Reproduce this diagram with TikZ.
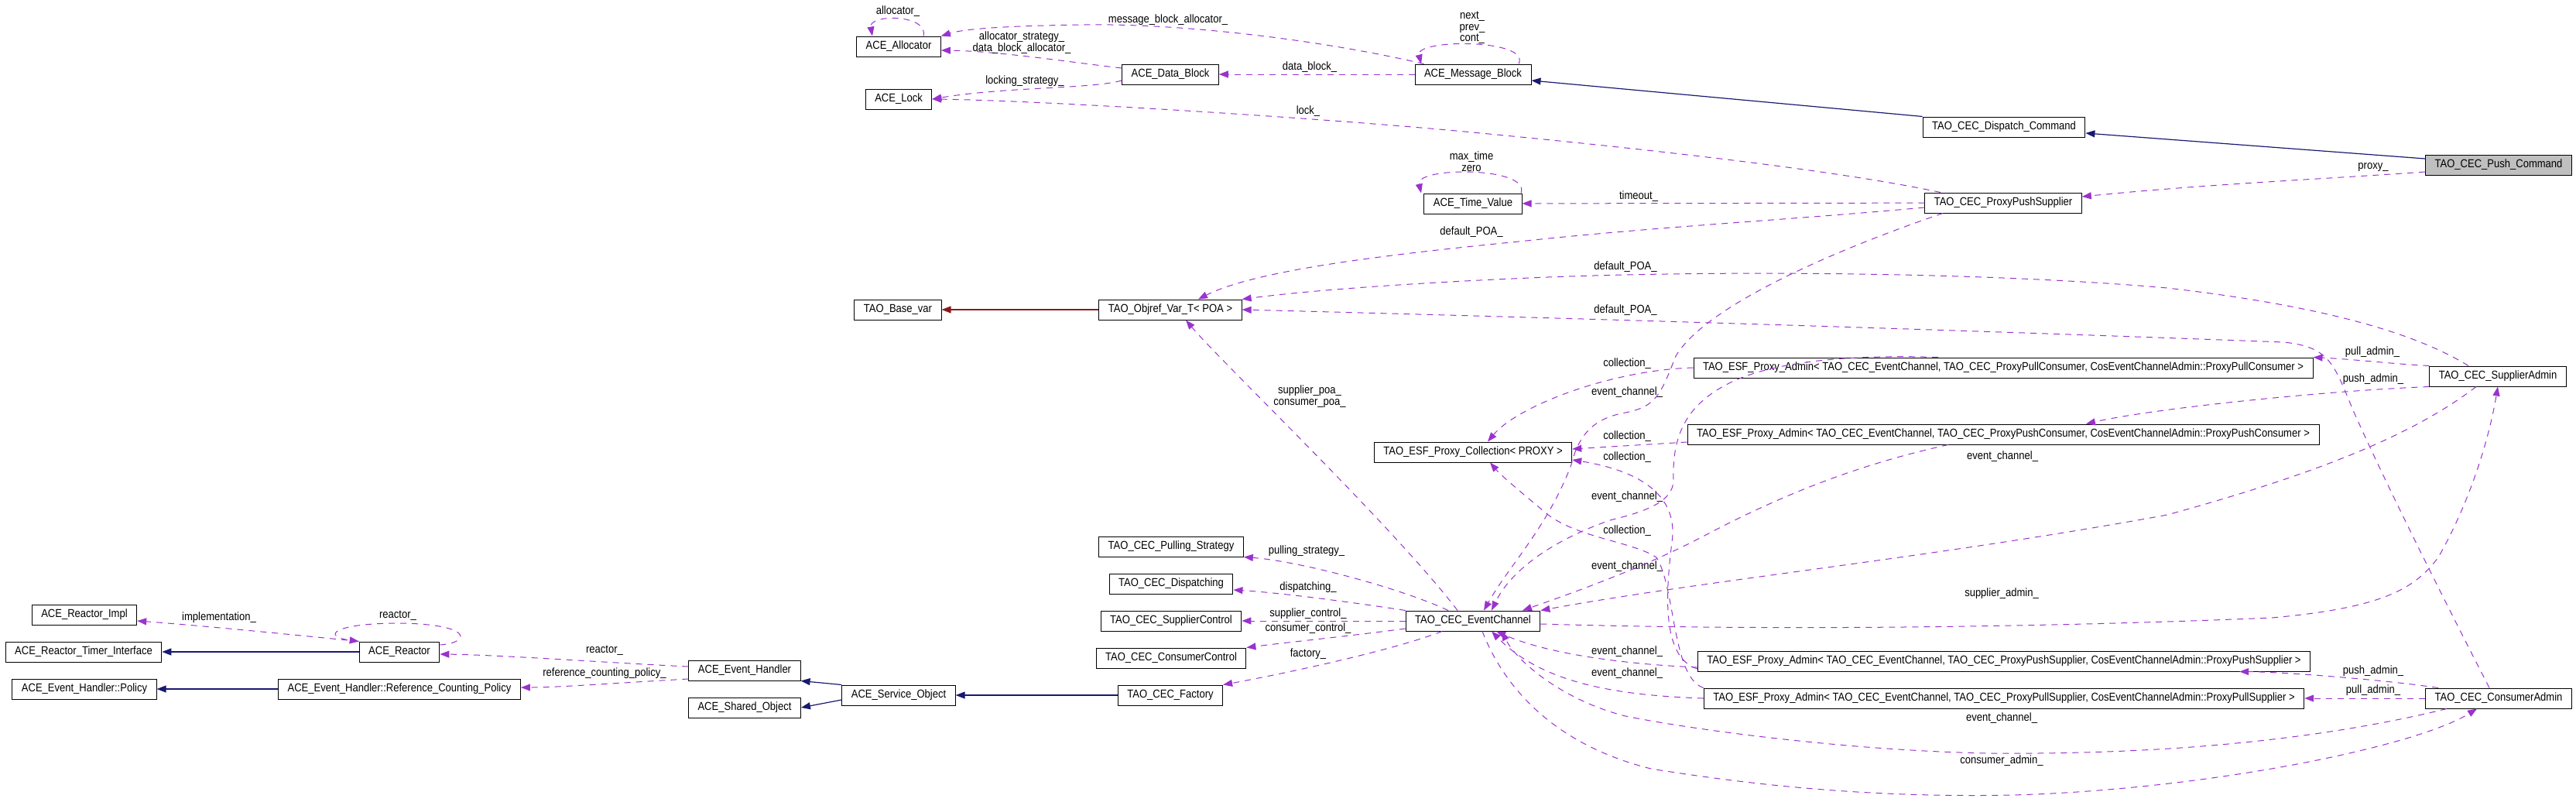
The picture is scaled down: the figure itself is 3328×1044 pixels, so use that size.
\documentclass[tikz,border=0pt]{standalone}
\usepackage{fontspec}
\newfontfamily\dotfont[FakeStretch=0.88]{Liberation Sans}
\usepackage{tikz}
\usetikzlibrary{arrows.meta}
\definecolor{usage}{HTML}{9A32CD}
\definecolor{pubinherit}{HTML}{191970}
\definecolor{privinherit}{HTML}{8B1A1A}

\begin{document}
\begin{tikzpicture}[x=0.5pt,y=-0.5pt,>={Triangle[length=6pt,width=4.5pt]}]
	\tikzstyle{cls} = [draw=black,line width=0.5pt,font=\dotfont\fontsize{7.4}{7.4}\selectfont,inner xsep=6pt,inner ysep=0pt,minimum height=13pt]
	\tikzstyle{focus} = [cls,fill=black!25]
	\tikzstyle{lbl} = [font=\dotfont\fontsize{7.4}{7.3}\selectfont,inner sep=0pt,align=center]
	\tikzstyle{uses} = [->,draw=usage,line width=0.5pt,dash pattern=on 4pt off 3.5pt]
	\tikzstyle{pubinh} = [->,draw=pubinherit,line width=0.6pt]
	\tikzstyle{privinh} = [->,draw=privinherit,line width=0.6pt]
	\useasboundingbox (0,0) rectangle (3328,1044);

	\node[cls]	(alloc)		at (1161,60)	{ACE\_Allocator};
	\node[cls]	(datab)		at (1512,96)	{ACE\_Data\_Block};
	\node[cls]	(msgb)		at (1903,96)	{ACE\_Message\_Block};
	\node[cls]	(lock)		at (1161,128)	{ACE\_Lock};
	\node[cls]	(dispcmd)	at (2589,164)	{TAO\_CEC\_Dispatch\_Command};
	\node[focus]	(pushcmd)	at (3228,213)	{TAO\_CEC\_Push\_Command};
	\node[cls]	(timeval)	at (1903,263)	{ACE\_Time\_Value};
	\node[cls]	(pps)		at (2588,262)	{TAO\_CEC\_ProxyPushSupplier};
	\node[cls]	(basevar)	at (1160,400)	{TAO\_Base\_var};
	\node[cls]	(objref)	at (1512,400)	{TAO\_Objref\_Var\_T< POA >};
	\node[cls]	(admpullcons)	at (2588,475)	{TAO\_ESF\_Proxy\_Admin< TAO\_CEC\_EventChannel, TAO\_CEC\_ProxyPullConsumer, CosEventChannelAdmin::ProxyPullConsumer >};
	\node[cls]	(suppadmin)	at (3227,486)	{TAO\_CEC\_SupplierAdmin};
	\node[cls]	(admpushcons)	at (2588,561)	{TAO\_ESF\_Proxy\_Admin< TAO\_CEC\_EventChannel, TAO\_CEC\_ProxyPushConsumer, CosEventChannelAdmin::ProxyPushConsumer >};
	\node[cls]	(coll)		at (1903,584)	{TAO\_ESF\_Proxy\_Collection< PROXY >};
	\node[cls]	(pullstrat)	at (1513,706)	{TAO\_CEC\_Pulling\_Strategy};
	\node[cls]	(dispatching)	at (1513,754)	{TAO\_CEC\_Dispatching};
	\node[cls]	(suppctrl)	at (1513,802)	{TAO\_CEC\_SupplierControl};
	\node[cls]	(ec)		at (1903,802)	{TAO\_CEC\_EventChannel};
	\node[cls]	(consctrl)	at (1513,850)	{TAO\_CEC\_ConsumerControl};
	\node[cls]	(factory)	at (1512,898)	{TAO\_CEC\_Factory};
	\node[cls]	(svcobj)	at (1161,898)	{ACE\_Service\_Object};
	\node[cls]	(admpushsupp)	at (2589,854)	{TAO\_ESF\_Proxy\_Admin< TAO\_CEC\_EventChannel, TAO\_CEC\_ProxyPushSupplier, CosEventChannelAdmin::ProxyPushSupplier >};
	\node[cls]	(admpullsupp)	at (2589,902)	{TAO\_ESF\_Proxy\_Admin< TAO\_CEC\_EventChannel, TAO\_CEC\_ProxyPullSupplier, CosEventChannelAdmin::ProxyPullSupplier >};
	\node[cls]	(consadmin)	at (3228,902)	{TAO\_CEC\_ConsumerAdmin};
	\node[cls]	(reactimpl)	at (109,794)	{ACE\_Reactor\_Impl};
	\node[cls]	(timerif)	at (108,842)	{ACE\_Reactor\_Timer\_Interface};
	\node[cls]	(reactor)	at (516,842)	{ACE\_Reactor};
	\node[cls]	(evh)		at (962,866)	{ACE\_Event\_Handler};
	\node[cls]	(policy)	at (109,890)	{ACE\_Event\_Handler::Policy};
	\node[cls]	(refcount)	at (516,890)	{ACE\_Event\_Handler::Reference\_Counting\_Policy};
	\node[cls]	(shared)	at (962,914)	{ACE\_Shared\_Object};

	\draw[pubinh] (dispcmd.north west) -- ([yshift=-4pt]msgb.east);
	\draw[pubinh] ([yshift=4pt]pushcmd.west) -- ([yshift=-4pt]dispcmd.east);
	\draw[privinh] (objref) -- (basevar);
	\draw[pubinh] (factory) -- (svcobj);
	\draw[pubinh] (svcobj.north west) -- (evh.south east);
	\draw[pubinh] ([yshift=-3pt]svcobj.west) -- (shared.east);
	\draw[pubinh] (reactor) -- (timerif);
	\draw[pubinh] (refcount) -- (policy);

	\draw[uses] ([xshift=16pt]alloc.north) .. controls (1200,18) and (1122,18) .. ([xshift=-17pt]alloc.north);
	\node[lbl] (l-alloc) at (1160,15) {allocator\_};
	\draw[uses] ([xshift=6pt]msgb.north west) .. controls (1700,50) and (1520,30) .. (1401,32) .. controls (1320,33) and (1250,36) .. (alloc.north east);
	\node[lbl] (l-mballoc) at (1509,26) {message\_block\_allocator\_};
	\draw[uses] ([yshift=4pt]datab.west) .. controls (1380,80) and (1290,66) .. ([yshift=-2.5pt]alloc.east);
	\node[lbl] (l-dballoc) at (1320,55) {allocator\_strategy\_\\data\_block\_allocator\_};
	\draw[uses] ([yshift=-4pt]datab.west) .. controls (1410,115) and (1300,112) .. (lock.east);
	\node[lbl] (l-lockstrat) at (1324,105) {locking\_strategy\_};
	\draw[uses] (msgb) -- (datab);
	\node[lbl] (l-datablock) at (1692,87) {data\_block\_};
	\draw[uses] ([xshift=29.5pt]msgb.north) .. controls (1978,50) and (1828,50) .. ([xshift=-33.5pt]msgb.north);
	\node[lbl] (l-mbself) at (1902,36) {next\_\\prev\_\\cont\_};
	\draw[uses] ([xshift=-40.5pt]pps.north) .. controls (2350,215) and (2050,185) .. (1892,170) .. controls (1700,152) and (1350,130) .. (lock.east);
	\node[lbl] (l-lock) at (1690,144) {lock\_};
	\draw[uses] ([xshift=31pt]timeval.north) .. controls (1978,215) and (1828,215) .. ([xshift=-33.5pt]timeval.north);
	\node[lbl] (l-tvself) at (1901,209) {max\_time\\zero};
	\draw[uses] (pps) -- (timeval);
	\node[lbl] (l-timeout) at (2117,254) {timeout\_};
	\draw[uses] ([yshift=-4.5pt]pushcmd.west) .. controls (2990,232) and (2850,238) .. ([yshift=4pt]pps.east);
	\node[lbl] (l-proxy) at (3066,216) {proxy\_};

	\draw[uses] ([yshift=-3pt]pps.west) .. controls (2300,285) and (2150,292) .. (1962,312) .. controls (1780,330) and (1620,350) .. ([xshift=18pt]objref.north);
	\node[lbl] (l-poa1) at (1901,300) {default\_POA\_};
	\draw[uses] ([xshift=-19pt]suppadmin.north) .. controls (3120,430) and (3000,395) .. (2800,372) .. controls (2550,350) and (2200,350) .. (2000,358) .. controls (1850,364) and (1700,374) .. (objref.north east);
	\node[lbl] (l-poa2) at (2100,345) {default\_POA\_};
	\draw[uses] ([xshift=-6pt]consadmin.north) .. controls (3150,760) and (3080,620) .. (3040,530) .. controls (3015,470) and (3010,448) .. (2950,442) .. controls (2500,425) and (2000,410) .. (objref.east);
	\node[lbl] (l-poa3) at (2100,401) {default\_POA\_};
	\draw[uses] ([xshift=-10pt]ec.north) .. controls (1800,680) and (1580,470) .. ([xshift=10pt]objref.south);
	\node[lbl] (l-poa) at (1692,512) {supplier\_poa\_\\consumer\_poa\_};

	\draw[uses] ([xshift=-16pt]ec.north) .. controls (1810,760) and (1680,725) .. (pullstrat.south east);
	\node[lbl] (l-pull) at (1688,712) {pulling\_strategy\_};
	\draw[uses] (ec.north west) .. controls (1760,780) and (1660,766) .. ([yshift=-4pt]dispatching.east);
	\node[lbl] (l-disp) at (1690,759) {dispatching\_};
	\draw[uses] (ec) -- (suppctrl);
	\node[lbl] (l-sctrl) at (1690,793) {supplier\_control\_};
	\draw[uses] ([yshift=-5pt]ec.west) .. controls (1740,822) and (1660,830) .. (consctrl.north east);
	\node[lbl] (l-cctrl) at (1690,812) {consumer\_control\_};
	\draw[uses] ([xshift=-20pt]ec.south) .. controls (1800,840) and (1660,870) .. (factory.north east);
	\node[lbl] (l-fact) at (1690,845) {factory\_};

	\draw[uses] (reactor.north west) .. controls (400,822) and (260,808) .. ([yshift=-4pt]reactimpl.east);
	\node[lbl] (l-impl) at (283,798) {implementation\_};
	\draw[uses] ([yshift=4.5pt]reactor.east) .. controls (610,830) and (610,806) .. (516,805) .. controls (430,805) and (415,822) .. (reactor.north west);
	\node[lbl] (l-rself) at (514,795) {reactor\_};
	\draw[uses] ([yshift=2.5pt]evh.west) .. controls (800,857) and (650,846) .. ([yshift=-1.5pt]reactor.east);
	\node[lbl] (l-react) at (781,840) {reactor\_};
	\draw[uses] ([yshift=-5.5pt]evh.west) .. controls (800,882) and (720,888) .. ([yshift=1pt]refcount.east);
	\node[lbl] (l-refc) at (781,870) {reference\_counting\_policy\_};

	\draw[uses] (suppadmin.north west) .. controls (3090,470) and (3040,464) .. (admpullcons.north east);
	\node[lbl] (l-pulladm) at (3065,455) {pull\_admin\_};
	\draw[uses] (suppadmin.south west) .. controls (3000,505) and (2780,528) .. ([xshift=53.5pt]admpushcons.north);
	\node[lbl] (l-pushadm) at (3066,490) {push\_admin\_};
	\draw[uses] ([yshift=-2pt]ec.east) .. controls (2300,815) and (2650,810) .. (2935,798) .. controls (3080,785) and (3120,760) .. (3150,720) .. controls (3190,650) and (3215,570) .. (suppadmin.south);
	\node[lbl] (l-suppadm) at (2586,767) {supplier\_admin\_};
	\draw[uses] ([xshift=6pt]ec.south) .. controls (1940,880) and (2000,960) .. (2133,993) .. controls (2300,1020) and (2450,1030) .. (2600,1027) .. controls (2850,1020) and (3120,965) .. ([xshift=-14pt]consadmin.south);
	\node[lbl] (l-consadm) at (2586,983) {consumer\_admin\_};
	\draw[uses] ([xshift=-33.5pt]consadmin.south) .. controls (3000,955) and (2800,975) .. (2570,973) .. controls (2400,970) and (2200,945) .. (2100,925) .. controls (2020,905) and (1960,855) .. ([xshift=18.5pt]ec.south);
	\node[lbl] (l-ec7) at (2586,928) {event\_channel\_};
	\draw[uses] ([xshift=-14pt]suppadmin.south) .. controls (3120,560) and (3000,610) .. (2800,665) .. controls (2500,720) and (2200,750) .. (ec.north east);
	\node[lbl] (l-ec3) at (2102,732) {event\_channel\_};
	\draw[uses] ([xshift=8.5pt]consadmin.north west) .. controls (3080,878) and (2950,868) .. ([xshift=-46pt]admpushsupp.south east);
	\node[lbl] (l-pushadm2) at (3066,867) {push\_admin\_};
	\draw[uses] (consadmin) -- (admpullsupp);
	\node[lbl] (l-pulladm2) at (3066,892) {pull\_admin\_};

	\draw[uses] (admpullcons.west) .. controls (2080,478) and (1960,525) .. ([xshift=9.5pt]coll.north);
	\node[lbl] (l-coll1) at (2102,470) {collection\_};
	\draw[uses] ([yshift=-5pt]admpushcons.west) -- ([yshift=2pt]coll.east);
	\node[lbl] (l-coll2) at (2102,564) {collection\_};
	\draw[uses] ([yshift=-5pt]admpushsupp.west) .. controls (2150,850) and (2150,780) .. (2160,700) .. controls (2170,630) and (2100,605) .. ([yshift=-5pt]coll.east);
	\node[lbl] (l-coll3) at (2102,591) {collection\_};
	\draw[uses] (admpullsupp.north west) .. controls (2160,875) and (2165,760) .. (2140,720) .. controls (2110,700) and (2040,695) .. (2000,665) .. controls (1970,640) and (1940,615) .. ([xshift=11pt]coll.south);
	\node[lbl] (l-coll4) at (2102,686) {collection\_};

	\draw[uses] ([xshift=-39pt]pps.south) .. controls (2350,330) and (2200,400) .. (2165,460) .. controls (2145,510) and (2140,525) .. (2100,533) .. controls (2060,540) and (2040,560) .. (2030,600) .. controls (2000,680) and (1950,730) .. ([xshift=7pt]ec.north);
	\node[lbl] (l-ec1) at (2102,507) {event\_channel\_};
	\draw[uses] ([xshift=-42pt]admpullcons.north) .. controls (2400,458) and (2300,465) .. (2240,492) .. controls (2180,520) and (2160,560) .. (2162,620) .. controls (2162,650) and (2120,662) .. (2080,672) .. controls (2000,700) and (1950,740) .. ([xshift=12pt]ec.north);
	\node[lbl] (l-ec2) at (2102,642) {event\_channel\_};
	\draw[uses] ([xshift=-35.5pt]admpushcons.south) .. controls (2400,600) and (2300,640) .. (2200,693) .. controls (2120,735) and (2020,770) .. ([xshift=32pt]ec.north);
	\node[lbl] (l-ec4) at (2587,590) {event\_channel\_};
	\draw[uses] ([yshift=-4pt]admpushsupp.west) .. controls (2100,858) and (2000,845) .. ([xshift=15pt]ec.south);
	\node[lbl] (l-ec5) at (2102,842) {event\_channel\_};
	\draw[uses] (admpullsupp.west) .. controls (2080,898) and (1990,880) .. ([xshift=12pt]ec.south);
	\node[lbl] (l-ec6) at (2102,870) {event\_channel\_};
\end{tikzpicture}
\end{document}
